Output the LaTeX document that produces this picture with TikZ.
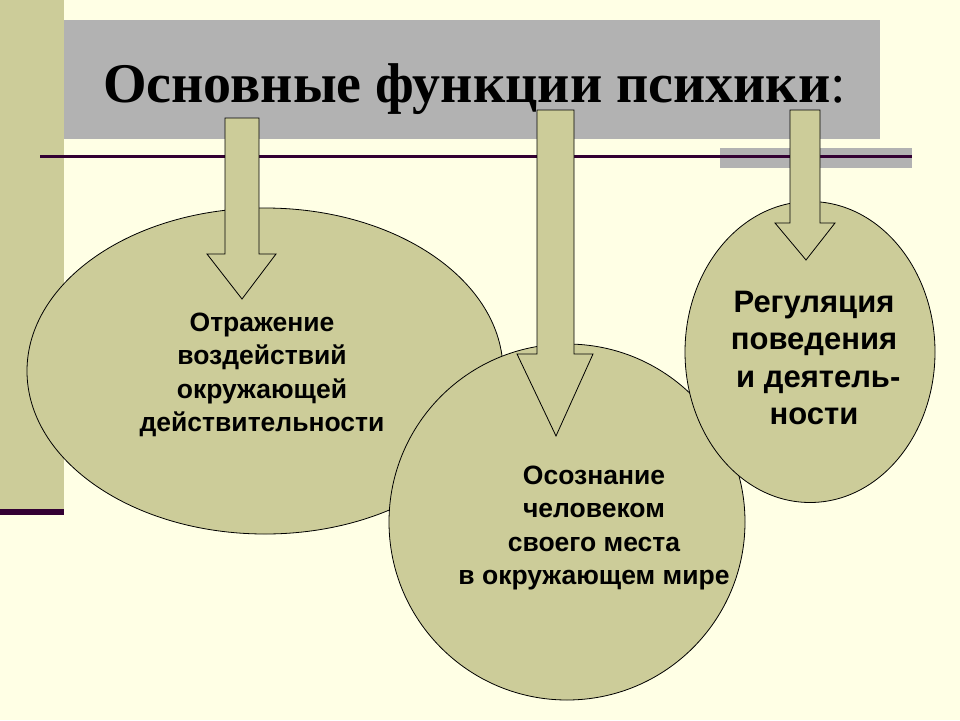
\documentclass[tikz,border=0pt]{standalone}
\usepackage{fontspec}
\setmainfont{Liberation Serif}
\newfontfamily\arialfont{Liberation Sans}
\usetikzlibrary{shapes.geometric,positioning}
\definecolor{cream}{HTML}{FFFFE5}
\definecolor{olive}{HTML}{CCCC99}
\definecolor{slate}{HTML}{B2B2B2}
\definecolor{plum}{HTML}{330033}
\begin{document}
\begin{tikzpicture}[x=1pt,y=-1pt,
    oval/.style={ellipse, draw=black, line width=0.8pt, fill=olive, inner sep=0pt},
    blockarrow/.style={draw=black, line width=0.8pt, fill=olive, line join=miter},
    caption/.style={font=\arialfont\bfseries\fontsize{26.5}{33.5}\selectfont, align=center, inner sep=0pt}]
    % frame of the slide
    \fill[cream] (0,0) rectangle (960,720);
    \useasboundingbox (0,0) rectangle (960,720);
    \fill[olive] (0,0) rectangle (64,509);
    \fill[plum] (0,509) rectangle (64,515);
    \fill[slate] (64,20) rectangle (880,139);
    \fill[slate] (720,148) rectangle (912,168);
    \draw[plum, line width=2.5pt] (40,156.5) -- (912,156.5);
    \node[anchor=base west, inner sep=0pt, font=\fontsize{56}{60}\selectfont] (title) at (103,102)
      {\textbf{Основные функции психики}:};
    % the three functions
    \node[oval, minimum width=476, minimum height=326] (reflect) at (265,371) {};
    \node[oval, minimum width=356, minimum height=356] (aware) at (567,522) {};
    \node[oval, minimum width=250, minimum height=301] (regulate) at (810,352) {};
    % arrows
    \draw[blockarrow] (225,118) -- (259,118) -- (259,254) -- (276,254) -- (242,299)
      -- (207,254) -- (225,254) -- cycle;
    \draw[blockarrow] (537,110) -- (574,110) -- (574,354) -- (593,354) -- (556,436)
      -- (517,354) -- (537,354) -- cycle;
    \draw[blockarrow] (790,110) -- (820,110) -- (820,223) -- (835,223) -- (806,260)
      -- (775,223) -- (790,223) -- cycle;
    % texts
    \node[caption] (reflecttext) at (262,375) {Отражение\\воздействий\\окружающей\\действительности};
    \node[caption] (awaretext) at (594,528) {Осознание\\человеком\\своего места\\в окружающем мире};
    \node[caption, font=\arialfont\bfseries\fontsize{31}{37.5}\selectfont] (regulatetext) at (814,358)
      {Регуляция\\поведения\\\ и деятель-\\ности};
\end{tikzpicture}
\end{document}
